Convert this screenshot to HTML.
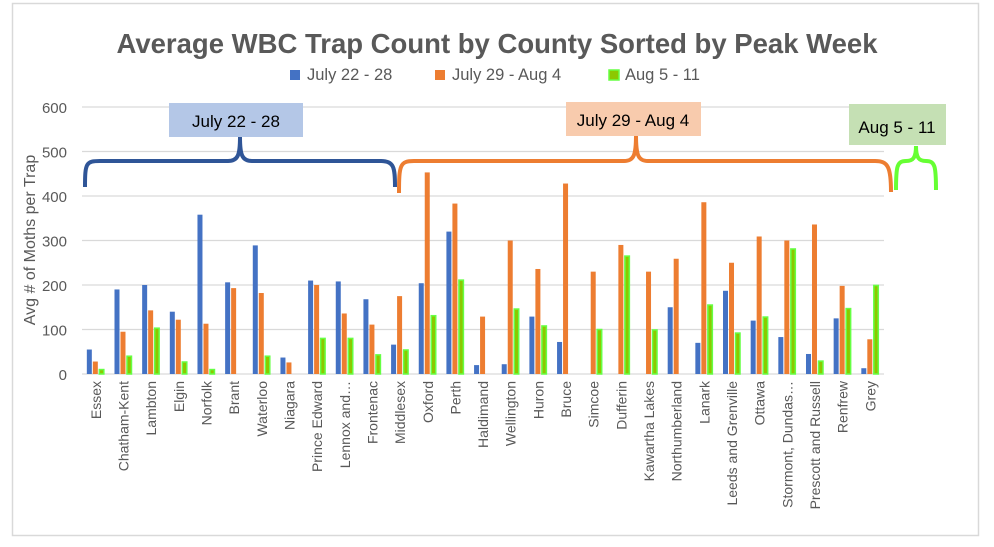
<!DOCTYPE html><html><head><meta charset="utf-8"><style>body{margin:0;background:#fff}svg{display:block;font-family:"Liberation Sans",sans-serif}</style></head><body>
<svg id="s" width="994" height="547" xmlns="http://www.w3.org/2000/svg"></svg>
<script>
var d=[["Essex",55,28,10],["Chatham-Kent",190,95,40],["Lambton",200,143,103],["Elgin",140,122,27],["Norfolk",358,113,10],["Brant",206,193,0],["Waterloo",289,182,40],["Niagara",37,26,0],["Prince Edward",210,200,80],["Lennox and…",208,136,80],["Frontenac",168,111,43],["Middlesex",66,175,54],["Oxford",204,453,131],["Perth",320,383,211],["Haldimand",20,129,0],["Wellington",22,300,146],["Huron",129,236,108],["Bruce",72,428,0],["Simcoe",0,230,100],["Dufferin",0,290,265],["Kawartha Lakes",0,230,99],["Northumberland",150,259,0],["Lanark",70,386,155],["Leeds and Grenville",187,250,92],["Ottawa",120,309,128],["Stormont, Dundas…",83,300,281],["Prescott and Russell",45,336,29],["Renfrew",125,198,147],["Grey",13,78,199]];
var h='<rect x="12.5" y="3.5" width="966" height="532" fill="#fff" stroke="#d9d9d9" stroke-width="1.5"/>';
var y0=374,k=0.445,x0=82,w=27.66;
for(var i=0;i<=6;i++){var y=y0-i*100*k;h+='<line x1="82" x2="884" y1="'+y+'" y2="'+y+'" stroke="#d9d9d9" stroke-width="1.3"/><text x="67" y="'+(y+6)+'" font-size="15" fill="#595959" text-anchor="end">'+i*100+'</text>';}
d.forEach(function(r,j){var c=x0+w*j+w/2;
if(r[1])h+='<rect x="'+(c-9)+'" y="'+(y0-r[1]*k)+'" width="5" height="'+r[1]*k+'" fill="#4472c4"/>';
if(r[2])h+='<rect x="'+(c-3)+'" y="'+(y0-r[2]*k)+'" width="5" height="'+r[2]*k+'" fill="#ed7d31"/>';
if(r[3])h+='<rect x="'+(c+3.5)+'" y="'+(y0-r[3]*k)+'" width="4.5" height="'+r[3]*k+'" fill="#8cc800" stroke="#66ff44" stroke-width="1.5"/>';
h+='<text transform="translate('+(c+5)+',381) rotate(-90)" font-size="14" fill="#595959" text-anchor="end">'+r[0]+'</text>';});
h+='<text transform="translate(35,240) rotate(-90)" font-size="16" fill="#595959" text-anchor="middle">Avg # of Moths per Trap</text>';
h+='<text x="497" y="53" font-size="27.5" font-weight="bold" fill="#595959" text-anchor="middle">Average WBC Trap Count by County Sorted by Peak Week</text>';
h+='<rect x="290" y="70" width="10" height="10" fill="#4472c4"/><text x="307" y="80" font-size="16.5" fill="#595959">July 22 - 28</text>';
h+='<rect x="435" y="70" width="10" height="10" fill="#ed7d31"/><text x="452" y="80" font-size="16.5" fill="#595959">July 29 - Aug 4</text>';
h+='<rect x="609" y="70" width="10" height="10" fill="#8cc800" stroke="#66ff44" stroke-width="1.5"/><text x="625" y="80" font-size="16.5" fill="#595959">Aug 5 - 11</text>';
h+='<path d="M85,187 C85,163 86,161 100,161 L228,161 C238,161 240,155 240,137 C240,155 242,161 252,161 L380,161 C394,161 395,167 395,187" fill="none" stroke="#2f5597" stroke-width="4"/>';
h+='<path d="M399,193 C399,165 400,161 414,161 L624,161 C634,161 636,155 636,135 C636,155 638,161 648,161 L875,161 C888,161 891,167 891,192" fill="none" stroke="#ed7d31" stroke-width="4"/>';
h+='<path d="M896,190 C896,166 897,161 906,161 C913,161 916,158 916,146 C916,158 919,161 926,161 C935,161 936,166 936,190" fill="none" stroke="#66ff33" stroke-width="4"/>';
h+='<rect x="169" y="103" width="134" height="34" fill="#b4c7e7"/><text x="236" y="127" font-size="17" fill="#000" text-anchor="middle">July 22 - 28</text>';
h+='<rect x="566" y="102" width="135" height="34" fill="#f8cbad"/><text x="633" y="126" font-size="17" fill="#000" text-anchor="middle">July 29 - Aug 4</text>';
h+='<rect x="849" y="104" width="97" height="41" fill="#c5e0b4"/><text x="897" y="133" font-size="17" fill="#000" text-anchor="middle">Aug 5 - 11</text>';
document.getElementById('s').innerHTML=h;
</script></body></html>
